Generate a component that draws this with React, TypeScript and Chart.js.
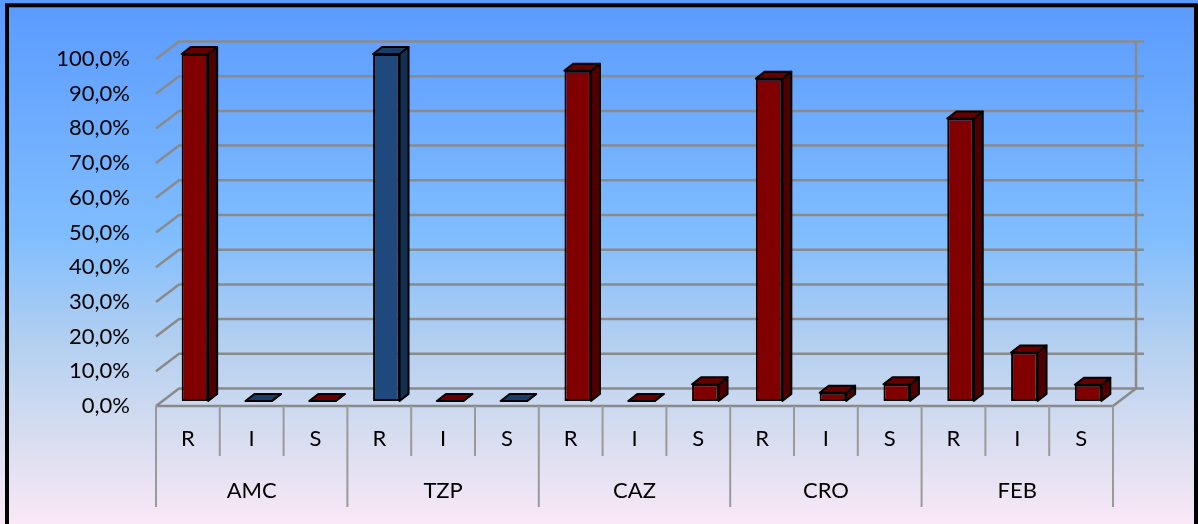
import React, { useEffect, useRef } from 'react';
import { Chart, registerables } from 'chart.js';

Chart.register(...registerables);

// Antibiotics and the susceptibility classes shown under each one
const antibiotics = ['AMC', 'TZP', 'CAZ', 'CRO', 'FEB'];
const classes = ['R', 'I', 'S'];

// Percentage of isolates per antibiotic / class (R, I, S for each antibiotic)
const percentValues = [
  100, 0, 0,
  100, 0, 0,
  95.2, 0, 4.8,
  92.9, 2.4, 4.8,
  81.4, 14.0, 4.7,
];

const yTickValues = [0, 10, 20, 30, 40, 50, 60, 70, 80, 90, 100];

// Fill family for each bar
const barTones = [
  'red', 'blue', 'red',
  'blue', 'red', 'blue',
  'red', 'red', 'red',
  'red', 'red', 'red',
  'red', 'red', 'red',
];

const palette: Record<string, { front: string; side: string; top: string }> = {
  red: { front: '#800000', side: '#4e0000', top: '#660000' },
  blue: { front: '#1F497D', side: '#132f52', top: '#1a3c67' },
};

const FONT = 'Lato, "Open Sans", sans-serif';
const GRID = '#8a8a8a';

// 3D geometry: depth of the box and position of the bar row inside it
const DEPTH_X = 23;
const DEPTH_Y = -17.5;
const BAR_SHIFT_X = 7;
const BAR_SHIFT_Y = -5;
const CAP_X = 9;
const CAP_Y = -7;

const formatPercent = (v: number) => v.toFixed(1).replace('.', ',') + '%';

const scene3d = {
  id: 'scene3d',
  beforeDraw(chart: any) {
    const { ctx, width, height } = chart;
    const g = ctx.createLinearGradient(0, 0, 0, height);
    g.addColorStop(0, '#5A9AFF');
    g.addColorStop(0.45, '#80BDFE');
    g.addColorStop(0.65, '#B2CFF0');
    g.addColorStop(0.82, '#D5DCF0');
    g.addColorStop(1, '#FAE8F6');
    ctx.save();
    ctx.fillStyle = g;
    ctx.fillRect(0, 0, width, height);
    ctx.restore();
  },
  beforeDatasetsDraw(chart: any) {
    const { ctx, chartArea: a, scales } = chart;
    const y = scales.y;
    const x = scales.x;
    ctx.save();
    ctx.strokeStyle = GRID;
    ctx.lineWidth = 2.5;
    ctx.lineJoin = 'miter';

    // back wall gridlines with their slanted left ends and right tick stubs
    for (const v of yTickValues) {
      const py = y.getPixelForValue(v);
      ctx.beginPath();
      ctx.moveTo(a.left, py);
      ctx.lineTo(a.left + DEPTH_X, py + DEPTH_Y);
      ctx.lineTo(a.right + DEPTH_X + 8, py + DEPTH_Y);
      ctx.stroke();
    }

    // right edge of back wall
    ctx.beginPath();
    ctx.moveTo(a.right + DEPTH_X, y.getPixelForValue(100) + DEPTH_Y);
    ctx.lineTo(a.right + DEPTH_X, a.bottom + DEPTH_Y);
    ctx.stroke();

    // floor front and right edges
    ctx.beginPath();
    ctx.moveTo(a.left, a.bottom);
    ctx.lineTo(a.right, a.bottom);
    ctx.lineTo(a.right + DEPTH_X, a.bottom + DEPTH_Y);
    ctx.stroke();

    // category separators under the axis
    ctx.lineWidth = 2;
    ctx.strokeStyle = '#9a9a9a';
    const n = percentValues.length;
    for (let i = 0; i <= n; i++) {
      const px = x.getPixelForValue(i - 0.5);
      const len = i % classes.length === 0 ? 101 : 50;
      ctx.beginPath();
      ctx.moveTo(px, a.bottom);
      ctx.lineTo(px, a.bottom + len);
      ctx.stroke();
    }
    ctx.restore();

    // bars sit halfway into the box
    ctx.save();
    ctx.translate(BAR_SHIFT_X, BAR_SHIFT_Y);
  },
  afterDatasetsDraw(chart: any) {
    const { ctx } = chart;
    const meta = chart.getDatasetMeta(0);
    ctx.lineWidth = 2;
    ctx.strokeStyle = '#000';
    ctx.lineJoin = 'round';
    meta.data.forEach((bar: any, i: number) => {
      const { x, y, base, width } = bar.getProps(['x', 'y', 'base', 'width'], true);
      const l = x - width / 2;
      const r = x + width / 2;
      const tone = palette[barTones[i]];

      // side face
      ctx.beginPath();
      ctx.moveTo(r, y);
      ctx.lineTo(r + CAP_X, y + CAP_Y);
      ctx.lineTo(r + CAP_X, base + CAP_Y);
      ctx.lineTo(r, base);
      ctx.closePath();
      ctx.fillStyle = tone.side;
      ctx.fill();
      ctx.stroke();

      // top face
      ctx.beginPath();
      ctx.moveTo(l, y);
      ctx.lineTo(l + CAP_X, y + CAP_Y);
      ctx.lineTo(r + CAP_X, y + CAP_Y);
      ctx.lineTo(r, y);
      ctx.closePath();
      ctx.fillStyle = tone.top;
      ctx.fill();
      ctx.stroke();
    });
    ctx.restore();
  },
  afterDraw(chart: any) {
    const { ctx } = chart;
    ctx.save();
    ctx.strokeStyle = '#000';
    ctx.lineWidth = 4;
    ctx.strokeRect(7, 5.3, 1189, 600);
    ctx.restore();
  },
};

export default function App() {
  const canvasRef = useRef<HTMLCanvasElement | null>(null);

  useEffect(() => {
    const canvas = canvasRef.current;
    if (!canvas) return;
    const labels = antibiotics.flatMap(() => classes);
    const chart = new Chart(canvas, {
      type: 'bar',
      data: {
        labels,
        datasets: [
          {
            data: percentValues,
            backgroundColor: barTones.map((t) => palette[t].front),
            borderColor: '#000',
            borderWidth: 2,
            borderSkipped: false,
            barPercentage: 0.415,
            categoryPercentage: 1,
            clip: false,
          } as any,
        ],
      },
      options: {
        responsive: false,
        animation: false,
        events: [],
        layout: { padding: { left: 0, right: 85, top: 59, bottom: 0 } },
        plugins: {
          legend: { display: false },
          tooltip: { enabled: false },
        },
        scales: {
          x: {
            type: 'category',
            position: 'bottom',
            grid: { display: false, drawTicks: false },
            border: { display: false },
            ticks: {
              color: '#000',
              font: { family: FONT, size: 22 },
              padding: 20,
              maxRotation: 0,
              autoSkip: false,
            },
            afterFit: (s: any) => {
              s.height = 50;
            },
          },
          x2: {
            type: 'category',
            position: 'bottom',
            labels: antibiotics,
            offset: true,
            grid: { display: false, drawTicks: false },
            border: { display: false },
            ticks: {
              color: '#000',
              font: { family: FONT, size: 22 },
              padding: 22,
              maxRotation: 0,
              autoSkip: false,
            },
            afterFit: (s: any) => {
              s.height = 68;
            },
          },
          y: {
            min: 0,
            max: 100,
            grid: { display: false, drawTicks: false },
            border: { display: false },
            ticks: {
              stepSize: 10,
              color: '#000',
              font: { family: FONT, size: 22 },
              padding: 26,
              callback: (v: any) => formatPercent(Number(v)),
            },
            afterFit: (s: any) => {
              s.width = 156;
            },
          },
        },
      } as any,
      plugins: [scene3d],
    });
    return () => chart.destroy();
  }, []);

  return (
    <div style={{ position: 'fixed', left: 0, top: 0, width: 1198, height: 524 }}>
      <canvas ref={canvasRef} width={1198} height={524} style={{ width: 1198, height: 524, display: 'block' }} />
    </div>
  );
}
